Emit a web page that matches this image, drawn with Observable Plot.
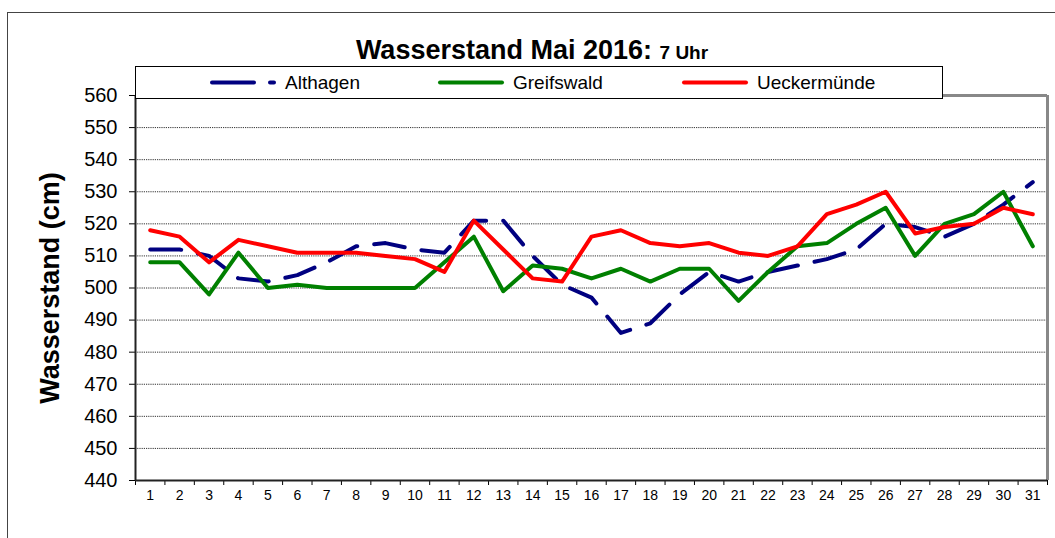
<!DOCTYPE html>
<html>
<head>
<meta charset="utf-8">
<script src="https://cdn.jsdelivr.net/npm/d3@7"></script>
<script src="https://cdn.jsdelivr.net/npm/@observablehq/plot@0.6"></script>
<style>
  html, body { margin: 0; padding: 0; background: #fff; overflow: hidden; }
  body { width: 1055px; height: 538px; position: relative; font-family: "Liberation Sans", Arial, sans-serif; }
  #frame { position: absolute; left: 7px; top: 12px; width: 1200px; height: 700px; border-left: 1.5px solid #444; border-top: 1.5px solid #444; }
  #chart { position: absolute; left: 0; top: 0; }
  #title { position: absolute; left: 0; width: 1064px; top: 35px; line-height: 30px; text-align: center; font-weight: bold; font-size: 27px; color: #000; white-space: nowrap; }
  #title span { font-size: 19px; }
  #legend { position: absolute; left: 135px; top: 66px; }
</style>
</head>
<body>
<div id="frame"></div>
<div id="chart"></div>
<div id="title">Wasserstand Mai 2016: <span>7 Uhr</span></div>
<div id="legend"></div>
<script>
const days = [1,2,3,4,5,6,7,8,9,10,11,12,13,14,15,16,17,18,19,20,21,22,23,24,25,26,27,28,29,30,31];
const althagen    = [512,512,510,503,502,504,508,513,514,512,511,521,521,510,501,497,486,489,498,505,502,505,507,509,512,520,519,516,520,526,533];
const greifswald  = [508,508,498,511,500,501,500,500,500,500,508,516,499,507,506,503,506,502,506,506,496,505,513,514,520,525,510,520,523,530,513];
const ueckermuende= [518,516,508,515,513,511,511,511,510,509,505,521,512,503,502,516,518,514,513,514,511,510,513,523,526,530,517,519,520,525,523];
const seriesNames = ["Althagen", "Greifswald", "Ueckermünde"];
const seriesColors = ["#000080", "#008000", "#FF0000"];
const yTicks = [440,450,460,470,480,490,500,510,520,530,540,550,560];
const yLabel = "Wasserstand (cm)";

const seriesValues = [althagen, greifswald, ueckermuende];
const rows = seriesNames.flatMap((name, i) => days.map((d, j) => ({day: d, value: seriesValues[i][j], series: name})));
const bounds = [days[0] - 0.5, ...days.map(d => d + 0.5)];
const grid = yTicks.slice(1, -1);

const lineStyle = (name, i) => Plot.line(rows.filter(r => r.series === name), {
  x: "day", y: "value", stroke: seriesColors[i], strokeWidth: 4,
  strokeLinecap: "round", strokeLinejoin: "round",
  strokeDasharray: i === 0 ? "31,17" : null
});

const chart = Plot.plot({
  width: 1055,
  height: 538,
  marginLeft: 135,
  marginRight: 8,
  marginTop: 95,
  marginBottom: 58,
  style: {fontFamily: '"Liberation Sans", Arial, sans-serif', background: "transparent", color: "#000"},
  x: {domain: [bounds[0], bounds[bounds.length - 1]]},
  y: {domain: [yTicks[0], yTicks[yTicks.length - 1]]},
  marks: [
    Plot.ruleY(grid, {stroke: "#333", strokeDasharray: "1.2,1", strokeWidth: 1}),
    Plot.ruleY([yTicks[yTicks.length - 1]], {stroke: "#888", strokeWidth: 3}),
    Plot.ruleX([bounds[bounds.length - 1]], {stroke: "#888", strokeWidth: 3}),
    Plot.axisY(yTicks, {tickSize: 6, tickPadding: 12, fontSize: 20, label: null, stroke: "#000"}),
    Plot.axisX(days, {tickSize: 0, tickPadding: 10, fontSize: 14, label: null, tickFormat: d => String(d)}),
    Plot.axisX(bounds, {tickSize: 5, tickFormat: () => "", label: null}),
    ...seriesNames.map(lineStyle),
    Plot.ruleX([bounds[0]], {stroke: "#222", strokeWidth: 2}),
    Plot.ruleY([yTicks[0]], {stroke: "#222", strokeWidth: 2}),
    Plot.text([yLabel], {frameAnchor: "left", text: d => d, rotate: -90, dx: -85, fontSize: 27, fontWeight: "bold", textAnchor: "middle"})
  ]
});
document.getElementById("chart").appendChild(chart);

// Legend
const lw = 807, lh = 32;
const lsvg = d3.select("#legend").append("svg").attr("width", lw + 2).attr("height", lh + 2)
  .style("font-family", '"Liberation Sans", Arial, sans-serif');
lsvg.append("rect").attr("x", 0.5).attr("y", 0.5).attr("width", lw).attr("height", lh)
  .attr("fill", "#fff").attr("stroke", "#000").attr("stroke-width", 1);
const itemX = [75, 303, 547];
seriesNames.forEach((name, i) => {
  const g = lsvg.append("g").attr("transform", `translate(${itemX[i]},16.5)`);
  g.append("line").attr("x1", 2).attr("x2", 64).attr("y1", 0).attr("y2", 0)
    .attr("stroke", seriesColors[i]).attr("stroke-width", 4).attr("stroke-linecap", "round")
    .attr("stroke-dasharray", i === 0 ? "42,16" : null);
  g.append("text").attr("x", 75).attr("y", 0).attr("dy", "0.35em").attr("font-size", 19).attr("fill", "#000").text(name);
});
</script>
</body>
</html>
